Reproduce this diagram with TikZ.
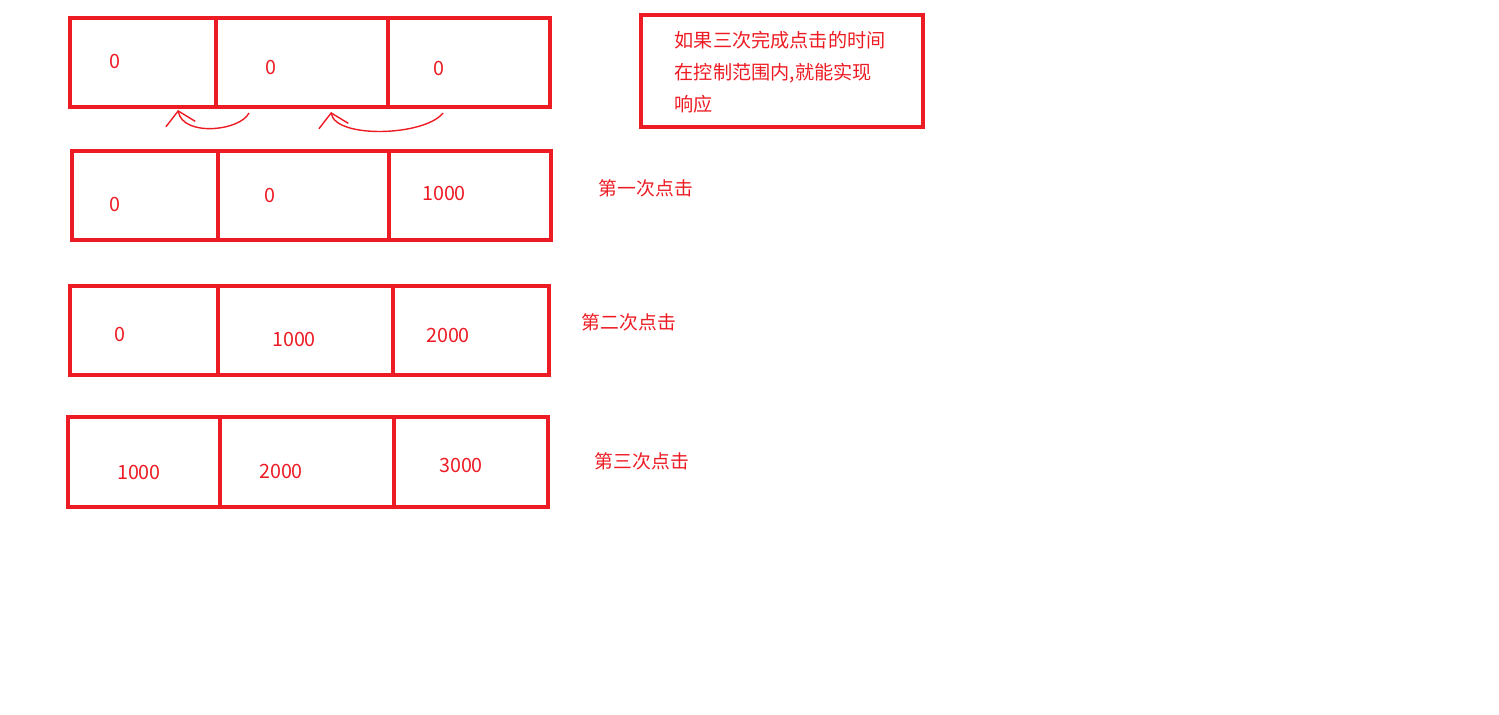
\documentclass[tikz,border=0pt]{standalone}
\usepackage{fontspec}
\newfontfamily\cjk{Noto Sans CJK SC}
\usetikzlibrary{arrows.meta}
\definecolor{paintred}{HTML}{ED1C24}
\tikzset{
  cellbox/.style = {draw=paintred, line width=0.04cm},
  val/.style     = {text=paintred, inner sep=0pt, font=\cjk\fontsize{5.6}{7}\selectfont},
  clicklbl/.style= {text=paintred, inner sep=0pt, font=\cjk\fontsize{5.35}{7}\selectfont},
  notetext/.style= {text=paintred, inner sep=0pt, align=left, anchor=west,
                    font=\cjk\fontsize{5.45}{9.1}\selectfont},
  hand/.style    = {draw=paintred, line width=0.4pt,
                    -{Straight Barb[length=3.8pt,width=8.5pt]}}
}

\begin{document}
\begin{tikzpicture}[x=0.01cm, y=-0.01cm]
  \useasboundingbox (0,0) rectangle (1499,714);

  % the four rows of three cells
  \foreach \xa/\ya/\xb/\yb/\da/\db in {70/18/550/107/216/388,
                                     72/151/551/240/218/389,
                                     70/286/549/375/218/393,
                                     68/417/548/507/220/394} {
    \draw[cellbox] (\xa,\ya) rectangle (\xb,\yb);
    \draw[cellbox] (\da,\ya) -- (\da,\yb);
    \draw[cellbox] (\db,\ya) -- (\db,\yb);
  }

  % values in the cells
  \foreach \name/\x/\y/\txt in {r1a/115/61/0,     r1b/271/67/0,     r1c/439/68/0,
                                r2a/115/204/0,    r2b/270/195/0,    r2c/444/193/1000,
                                r3a/120/334/0,    r3b/294/339/1000, r3c/448/335/2000,
                                r4a/139/472/1000, r4b/281/471/2000, r4c/461/465/3000} {
    \node[val] (\name) at (\x,\y) {\txt};
  }

  % click labels
  \node[clicklbl] (click1) at (646,188) {第一次点击};
  \node[clicklbl] (click2) at (629,322) {第二次点击};
  \node[clicklbl] (click3) at (642,461) {第三次点击};

  % note box
  \draw[cellbox] (641,15) rectangle (923,127);
  \node[notetext] (note) at (674,72)
    {如果三次完成点击的时间\\在控制范围内,就能实现\\响应};

  % shifting arrows under the first row
  \coordinate (r1b-foot) at (249,113);
  \coordinate (r1a-foot) at (178,110);
  \coordinate (r1c-foot) at (443,113);
  \coordinate (r1b-head) at (331,112);
  \draw[hand] (r1b-foot) .. controls (240,131) and (183,137) .. (r1a-foot);
  \draw[hand] (r1c-foot) .. controls (425,136) and (336,139) .. (r1b-head);

\end{tikzpicture}
\end{document}
